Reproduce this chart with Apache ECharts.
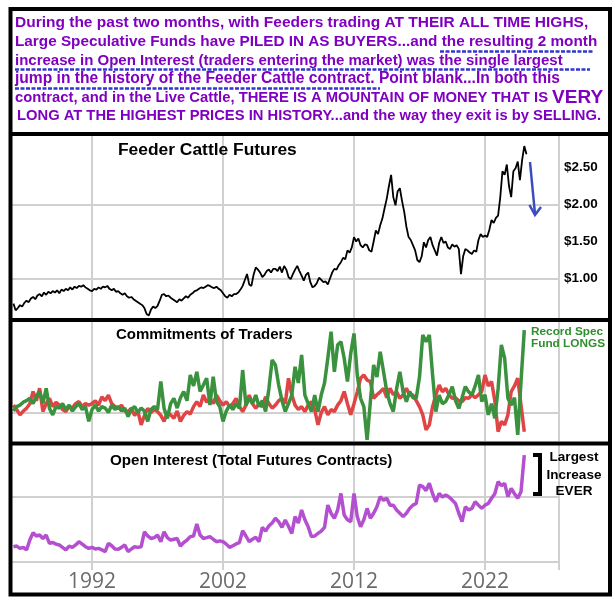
<!DOCTYPE html>
<html><head><meta charset="utf-8">
<script src="https://cdn.jsdelivr.net/npm/echarts@6/dist/echarts.min.js"></script>
<style>html,body{margin:0;padding:0;background:#fff}#c{width:615px;height:603px}</style>
</head><body><div id="c"></div>
<script>
// ---------- data ----------
const START_YEAR = 1986;
const PRICE_STEP = 1 / 6;   // bi-monthly samples
const QUARTER_STEP = 0.25;  // quarterly samples

// Feeder Cattle futures, $/lb
const priceValues = [
  0.66,0.57,0.60,0.64,0.62,0.67, 0.70,0.68,0.73,0.75,0.72,0.77, 0.79,0.76,0.81,0.78,0.82,0.80,
  0.83,0.81,0.84,0.80,0.85,0.83, 0.86,0.84,0.88,0.85,0.89,0.87, 0.90,0.89,0.91,0.88,0.86,0.84,
  0.83,0.86,0.85,0.88,0.86,0.89, 0.88,0.90,0.86,0.84,0.86,0.82, 0.83,0.80,0.78,0.80,0.76,0.74,
  0.75,0.72,0.70,0.68,0.66,0.64, 0.60,0.52,0.50,0.58,0.62,0.60, 0.63,0.70,0.78,0.79,0.76,0.77,
  0.74,0.72,0.70,0.68,0.72,0.70, 0.73,0.76,0.74,0.78,0.80,0.83, 0.84,0.86,0.88,0.87,0.89,0.91,
  0.90,0.88,0.87,0.89,0.86,0.84, 0.80,0.76,0.74,0.78,0.76,0.79, 0.79,0.81,0.85,0.90,0.98,1.06,
  0.92,0.90,1.05,1.15,1.12,1.08, 1.02,1.05,1.10,1.12,1.08,1.13, 1.13,1.10,1.16,1.08,1.17,1.12,
  1.02,0.99,1.06,1.12,1.17,1.10, 1.04,0.97,1.05,1.08,0.95,0.88, 0.90,0.94,1.01,0.98,0.95,0.96,
  0.92,1.00,1.08,1.13,1.12,1.18, 1.22,1.28,1.26,1.38,1.35,1.42, 1.56,1.50,1.54,1.45,1.42,1.46,
  1.45,1.38,1.36,1.50,1.65,1.60, 1.72,1.81,1.95,2.08,2.25,2.40, 2.10,1.99,2.18,2.22,2.05,1.90,
  1.70,1.56,1.52,1.45,1.38,1.25, 1.22,1.30,1.49,1.42,1.52,1.56, 1.45,1.38,1.31,1.48,1.56,1.48,
  1.50,1.42,1.40,1.46,1.43,1.45, 1.40,1.06,1.30,1.40,1.38,1.35, 1.33,1.38,1.36,1.52,1.60,1.56,
  1.58,1.56,1.66,1.79,1.75,1.82, 1.85,2.10,2.45,2.40,2.54,2.25, 2.10,2.45,2.49,2.58,2.33,2.60,
  2.79,2.68
];

// Commitments of Traders: large speculative funds (green)
const specFundLongs = [
  0.5,2.0,2.5,3.5, 4.0,4.8,3.0,5.5, 7.1,3.1,8.2,1.4, -0.8,2.0,1.5,3.0, 1.0,2.5,0.5,2.0,
  3.0,1.0,2.0,-3.0, 1.0,2.5,0.5,2.0, 1.5,0.0,2.5,1.0, 2.0,0.5,1.5,-1.4, 1.0,2.0,0.0,1.5,
  0.5,-3.0,1.0,2.0, 1.0,10.5,1.4,-2.0, 3.0,4.8,1.5,5.0, 7.1,4.0,12.7,9.0, 13.8,7.1,9.3,11.6,
  2.5,12.1,3.7,2.0, -3.0,0.5,2.5,1.0, 3.0,1.4,14.4,2.5, 4.8,3.0,5.9,2.0, 4.0,0.3,8.0,17.8,
  16.1,9.3,4.0,0.3, 3.0,5.9,15.5,10.0, 19.5,5.9,3.0,0.3, 5.9,0.3,6.0,10.0, 18.4,27.4,13.8,22.9,
  24.0,18.4,10.5,20.0, 26.8,12.7,4.8,2.0, -9.3,3.7,16.1,12.0, 20.6,14.0,7.1,3.0, 0.3,8.0,13.8,7.0,
  3.7,7.1,5.0,4.8, 12.0,26.3,24.0,26.3, 12.7,0.3,5.9,3.0, 3.7,6.0,8.8,4.0, 1.4,5.0,8.8,7.0,
  5.9,9.0,12.7,3.7, 6.0,-0.8,3.0,-2.0, 8.0,22.9,18.4,4.8, 2.5,5.0,-7.6,10.5,
  27.9
];
// Commitments of Traders: other traders (red)
const otherTraders = [
  2.5,1.0,-0.8,0.5, 1.4,3.0,7.1,4.0, 8.2,0.3,3.0,4.8, 2.0,3.5,2.5,1.0, 0.3,2.0,1.5,3.0,
  3.7,2.0,3.0,2.5, 3.0,4.0,2.5,5.3, 4.0,5.9,3.0,2.0, 1.4,2.5,0.5,0.3, 1.5,-1.0,0.5,-4.2,
  -1.0,1.4,0.0,1.0, 0.3,-1.0,-3.0,0.0, -0.8,-2.0,0.5,-3.0, -1.0,0.3,-0.5,2.0, 3.7,2.0,5.9,3.5,
  4.8,3.0,5.9,4.0, 2.5,3.7,2.0,3.0, 4.8,2.0,0.3,2.5, 5.9,3.0,1.4,3.0, 2.0,5.3,3.0,1.5,
  2.5,4.0,4.8,3.0, 11.6,6.0,2.5,1.0, 2.0,0.3,2.5,3.7, 1.0,-4.2,0.0,2.0, -0.8,1.0,0.3,2.5,
  4.0,7.1,3.0,-0.8, 3.0,7.0,11.6,12.7, 11.0,10.5,4.8,6.0, 7.0,8.2,5.0,8.2, 6.0,7.0,4.8,6.0,
  8.2,6.0,5.9,4.0, 2.0,-0.8,-5.9,-4.2, 2.0,6.0,9.3,7.0, 8.2,6.0,4.8,5.0, 4.0,3.7,5.0,4.8,
  6.0,5.0,6.0,7.1, 12.7,9.0,10.5,4.0, -6.5,-3.0,-4.2,-0.8, 7.1,9.0,11.6,2.5,
  -6.5
];

// Open interest, thousand contracts
const openInterest = [
  9.4,9.8,8.4,9.0, 7.4,13.5,18.0,16.0, 16.6,14.5,16.6,11.5, 12.0,11.0,10.5,9.0, 7.4,9.8,9.0,10.5,
  12.5,11.0,9.4,8.4, 9.0,8.0,8.4,7.5, 6.4,11.5,10.0,8.0, 7.8,9.0,10.5,6.4, 8.0,9.4,9.0,9.4,
  18.6,16.0,14.5,15.0, 16.6,12.5,18.6,15.0, 13.5,14.0,14.5,9.8, 12.0,13.5,15.6,16.0, 23.4,16.6,14.5,15.0,
  15.6,14.0,12.5,13.0, 12.5,11.0,9.0,10.0, 11.1,11.9,19.3,16.0, 12.5,14.0,15.2,12.5, 21.3,19.0,22.2,24.0,
  26.9,24.8,21.3,25.8, 22.0,17.6,27.9,24.0, 32.0,26.0,21.7,15.6, 16.0,17.6,19.0,21.3, 35.0,30.0,26.9,32.0,
  42.2,28.9,26.0,24.8, 42.2,27.9,21.7,26.0, 33.0,26.9,30.0,34.0, 40.2,38.0,39.2,35.0, 35.0,32.0,30.0,27.9,
  30.0,33.0,35.0,36.0, 47.4,46.4,44.0,48.4, 42.0,37.1,42.2,40.0, 41.2,40.0,38.1,36.0, 30.0,24.8,34.0,32.0,
  33.0,37.1,35.0,33.0, 35.0,36.0,39.2,42.0, 49.4,47.0,48.4,40.2, 45.3,42.0,39.2,43.3,
  65.8
];

const yearLabels = [1992, 2002, 2012, 2022];
const priceLabels = [1.0, 1.5, 2.0, 2.5];
const priceGrid = [1.0, 2.0];

// ---------- chart ----------
const X_MIN = 1985.89, X_MAX = 2027.65;
const toPairs = (vals, step) => vals.map((v, i) => [START_YEAR + i * step, v]);
const gridX = yearLabels.concat([X_MAX]);
const GRID_GRAY = '#d0d0d0';
const BOLD = '"Liberation Sans", Arial, Helvetica, sans-serif';

function xAxisFor(gi, labels) {
  return {
    type: 'value', gridIndex: gi, min: X_MIN, max: X_MAX,
    axisLine: { show: labels, onZero: false, lineStyle: { color: GRID_GRAY, width: 2 } },
    axisTick: { show: labels, customValues: gridX, length: 8, lineStyle: { color: GRID_GRAY, width: 2 } },
    axisLabel: { show: labels, customValues: yearLabels, color: '#6b6b6b', fontSize: 21,
      fontFamily: '"Open Sans", "Noto Sans", sans-serif', margin: 10, formatter: v => String(v) },
    splitLine: { show: true, lineStyle: { color: GRID_GRAY, width: 2 } }
  };
}

const chart = echarts.init(document.getElementById('c'), null, { renderer: 'canvas' });

const purple = '#8000c0';
const mid = { verticalAlign: 'middle', textVerticalAlign: 'middle' };
const boxLines = [
  ['During the past two months, with Feeders trading AT THEIR ALL TIME HIGHS,', 15.5],
  ['Large Speculative Funds have PILED IN AS BUYERS...and the resulting 2 month', 15.3],
  ['increase in Open Interest (traders entering the market) was the single largest', 15.0],
  ['jump in the history of the Feeder Cattle contract. Point blank...In both this', 15.6],
  [null, 14.8],
  ['LONG AT THE HIGHEST PRICES IN HISTORY...and the way they exit is by SELLING.', 14.75]
];
const lineY = [23, 42, 60.5, 79, 97.5, 116];

const graphics = [];
boxLines.forEach((ln, i) => {
  const t = ln[0], fs = ln[1];
  if (t === null) {
    graphics.push({ type: 'text', x: 15, y: lineY[i], z: 50, style: Object.assign({
      text: '{a|contract, and in the Live Cattle, THERE IS A MOUNTAIN OF MONEY THAT IS }{b|VERY}',
      fill: purple, font: 'bold ' + fs + 'px ' + BOLD,
      rich: { a: { fill: purple, font: 'bold ' + fs + 'px ' + BOLD }, b: { fill: purple, font: 'bold 19px ' + BOLD } }
    }, mid) });
  } else {
    graphics.push({ type: 'text', x: i === 5 ? 17 : 15, y: lineY[i], z: 50,
      style: Object.assign({ text: t, fill: purple, font: 'bold ' + fs + 'px ' + BOLD }, mid) });
  }
});
// dashed underlines
[[440, 51.5, 594], [15, 69.5, 590], [15, 88.5, 380]].forEach(u => {
  graphics.push({ type: 'line', z: 50, shape: { x1: u[0], y1: u[1], x2: u[2], y2: u[1] },
    style: { stroke: '#3535d0', lineWidth: 2.5, lineDash: [4, 1.5] } });
});
// frame and separators
graphics.push({ type: 'rect', z: 100, shape: { x: 10.5, y: 9, width: 599.5, height: 585.5 },
  style: { fill: null, stroke: '#000', lineWidth: 4 } });
[134, 320, 443.5].forEach(y => graphics.push({ type: 'line', z: 100,
  shape: { x1: 10, y1: y, x2: 611, y2: y }, style: { stroke: '#000', lineWidth: 4 } }));
// panel titles
graphics.push({ type: 'text', x: 118, y: 150, z: 50, style: Object.assign({ text: 'Feeder Cattle Futures', fill: '#000',
  font: 'bold 17.4px ' + BOLD }, mid) });
graphics.push({ type: 'text', x: 116, y: 335, z: 50, style: Object.assign({ text: 'Commitments of Traders', fill: '#000',
  font: 'bold 15px ' + BOLD }, mid) });
graphics.push({ type: 'text', x: 110, y: 461, z: 50, style: Object.assign({ text: 'Open Interest (Total Futures Contracts)', fill: '#000',
  font: 'bold 15.2px ' + BOLD }, mid) });
// side notes
[['Record Spec', 332], ['Fund LONGS', 344]].forEach(n => graphics.push({ type: 'text', x: 531, y: n[1], z: 50,
  style: Object.assign({ text: n[0], fill: '#2f8f2f', font: 'bold 11.8px ' + BOLD }, mid) }));
[['Largest', 457], ['Increase', 475], ['EVER', 491]].forEach(n => graphics.push({ type: 'text', x: 574, y: n[1], z: 50,
  style: Object.assign({ text: n[0], fill: '#000', font: 'bold 13.5px ' + BOLD, align: 'center', textAlign: 'center' }, mid) }));
graphics.push({ type: 'polyline', z: 50, shape: { points: [[533, 455], [540, 455], [540, 494], [533, 494]] },
  style: { stroke: '#000', lineWidth: 4, fill: null } });
// blue arrow
graphics.push({ type: 'polyline', z: 50, shape: { points: [[530, 162], [535, 214]] },
  style: { stroke: '#3b4cc0', lineWidth: 2.5, fill: null } });
graphics.push({ type: 'polyline', z: 50, shape: { points: [[529.5, 205], [535, 215], [541, 207]] },
  style: { stroke: '#3b4cc0', lineWidth: 2.5, fill: null } });

const option = {
  backgroundColor: '#ffffff',
  animation: false,
  grid: [
    { left: 12, right: 56, top: 136, bottom: 285 },
    { left: 12, right: 56, top: 322, bottom: 162 },
    { left: 12, right: 56, top: 445, bottom: 41 }
  ],
  xAxis: [xAxisFor(0, false), xAxisFor(1, false), xAxisFor(2, true)],
  yAxis: [
    { type: 'value', gridIndex: 0, position: 'right', min: 0.466, max: 2.926,
      axisLine: { show: false }, axisTick: { show: false, customValues: priceGrid },
      axisLabel: { customValues: priceLabels, formatter: v => '$' + v.toFixed(2), color: '#000',
        fontWeight: 'bold', fontSize: 13.5, fontFamily: BOLD, margin: 5 },
      splitLine: { show: true, lineStyle: { color: GRID_GRAY, width: 2 } } },
    { type: 'value', gridIndex: 1, min: -9.66, max: 30.68,
      axisLine: { show: false }, axisTick: { show: false, customValues: [0] }, axisLabel: { show: false },
      splitLine: { show: true, lineStyle: { color: GRID_GRAY, width: 2 } } },
    { type: 'value', gridIndex: 2, min: 0, max: 72,
      axisLine: { show: false }, axisTick: { show: false, customValues: [40] }, axisLabel: { show: false },
      splitLine: { show: true, lineStyle: { color: GRID_GRAY, width: 2 } } }
  ],
  series: [
    { type: 'line', xAxisIndex: 0, yAxisIndex: 0, data: toPairs(priceValues, PRICE_STEP),
      showSymbol: false, lineStyle: { color: '#000', width: 1.8 }, z: 5 },
    { type: 'line', xAxisIndex: 1, yAxisIndex: 1, data: toPairs(otherTraders, QUARTER_STEP),
      showSymbol: false, lineStyle: { color: '#e04545', width: 3.5 }, z: 5 },
    { type: 'line', xAxisIndex: 1, yAxisIndex: 1, data: toPairs(specFundLongs, QUARTER_STEP),
      showSymbol: false, lineStyle: { color: '#3a913e', width: 3.5 }, z: 6 },
    { type: 'line', xAxisIndex: 2, yAxisIndex: 2, data: toPairs(openInterest, QUARTER_STEP),
      showSymbol: false, lineStyle: { color: '#b44fd0', width: 3.5 }, z: 5 }
  ],
  graphic: graphics
};
chart.setOption(option);
</script>
</body></html>
